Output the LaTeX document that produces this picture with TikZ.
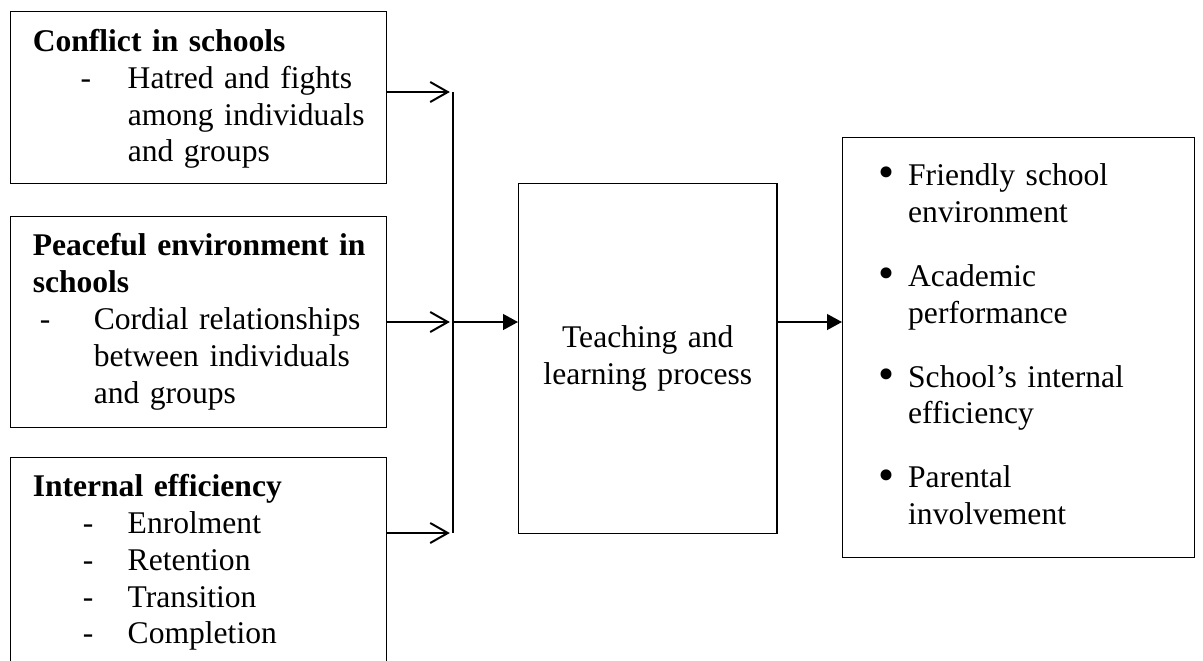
\documentclass[tikz,border=0pt]{standalone}
\usepackage{graphicx}
\usepackage{fontspec}
\setmainfont{Liberation Serif}
\usetikzlibrary{arrows.meta}

\newcommand{\bigbul}{\makebox[11.4pt][l]{\raisebox{-0.9pt}{\scalebox{1.45}{\textbullet}}}}

\begin{document}
\begin{tikzpicture}[x=0.38pt, y=-0.38pt, font=\fontsize{12}{14}\selectfont,
    lnode/.style={draw, line width=0.5pt, anchor=north west, text width=126pt, inner xsep=8.4pt, inner ysep=0pt, align=left},
    cnode/.style={draw, line width=0.5pt, anchor=north west, text width=91.5pt, minimum height=133pt, align=center},
    rnode/.style={draw, line width=0.5pt, anchor=north west, text width=106.8pt, inner xsep=13.5pt, minimum height=159.6pt, align=left},
    oarr/.style={-{Straight Barb[length=6.7pt,width=7.6pt]}, line width=0.75pt},
    farr/.style={-{Triangle[length=5.7pt,width=6pt]}, line width=0.75pt}]
    \path[use as bounding box, clip] (0,0) rectangle (1203,660);

    \node[lnode, minimum height=65.4pt] (conf) at (10,11) {\begin{tabular}{@{}l@{}}
        \rule{0pt}{11pt}\textbf{Conflict in schools}\\
        \hspace*{18.2pt}\makebox[17.9pt][l]{-}Hatred and fights\\
        \hspace*{36.1pt}among individuals\\
        \hspace*{36.1pt}and groups
      \end{tabular}};
    \node[lnode, minimum height=80.2pt] (peace) at (10,216) {\begin{tabular}{@{}l@{}}
        \textbf{Peaceful environment in}\\
        \textbf{schools}\\
        \hspace*{2.7pt}\makebox[20.5pt][l]{-}Cordial relationships\\
        \hspace*{23.2pt}between individuals\\
        \hspace*{23.2pt}and groups
      \end{tabular}};
    \node[lnode, inner ysep=5pt] (intef) at (10,457) {\begin{tabular}{@{}l@{}}
        \textbf{Internal efficiency}\\
        \hspace*{19pt}\makebox[17.1pt][l]{-}Enrolment\\
        \hspace*{19pt}\makebox[17.1pt][l]{-}Retention\\
        \hspace*{19pt}\makebox[17.1pt][l]{-}Transition\\
        \hspace*{19pt}\makebox[17.1pt][l]{-}Completion\\[8pt]
      \end{tabular}};

    \node[cnode] (proc) at (518,183) {Teaching and\\learning process};

    \node[rnode] (outc) at (842,137) {\begin{tabular}{@{}l@{}l@{}}
        \bigbul & Friendly school\\
        & environment\\[10.3pt]
        \bigbul & Academic\\
        & performance\\[10.3pt]
        \bigbul & School’s internal\\
        & efficiency\\[10.3pt]
        \bigbul & Parental\\
        & involvement
      \end{tabular}};

    \coordinate (j1) at (453,92);
    \coordinate (j2) at (453,322);
    \coordinate (j3) at (453,533);

    \draw[line width=0.5pt] (j1) -- (j3);
    \draw[oarr] (conf.east |- j1) -- ([xshift=-1.2pt]j1);
    \draw[oarr] (peace.east |- j2) -- ([xshift=-1.2pt]j2);
    \draw[oarr] (intef.east |- j3) -- ([xshift=-1.2pt]j3);
    \draw[farr] (j2) -- (proc.west |- j2);
    \draw[farr] (proc.east |- j2) -- (outc.west |- j2);
\end{tikzpicture}
\end{document}
